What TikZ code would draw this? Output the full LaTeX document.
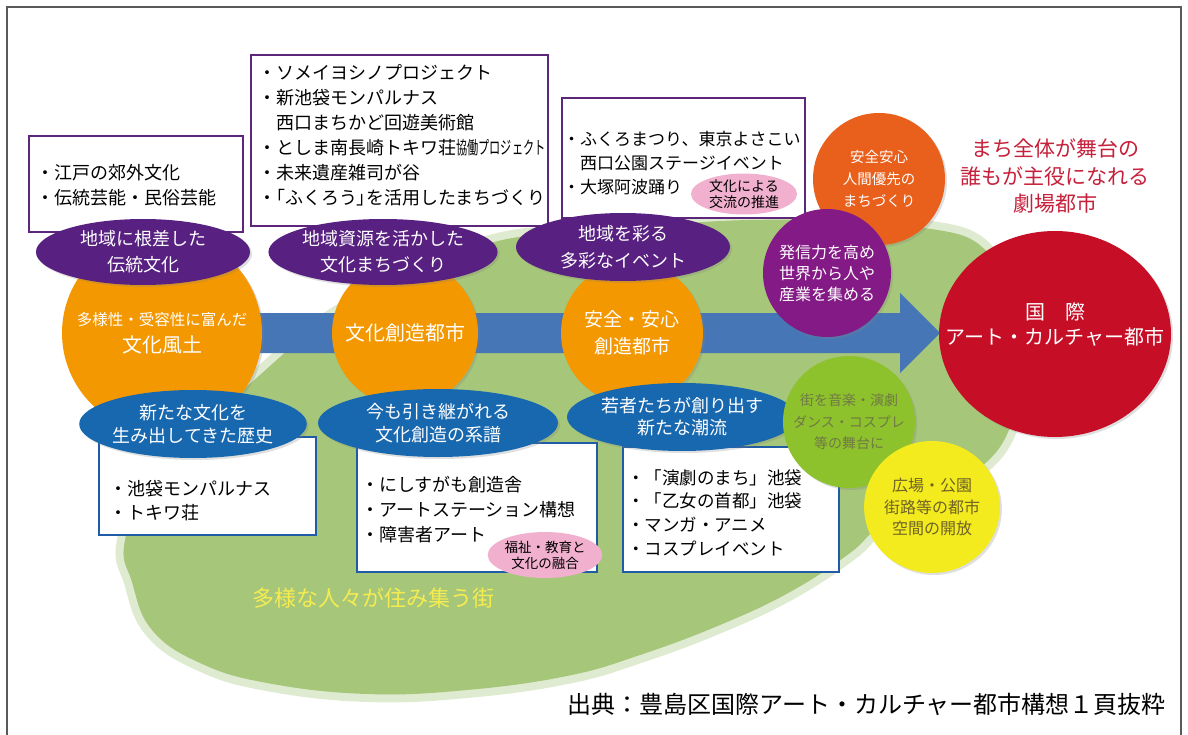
\documentclass[tikz,border=0pt]{standalone}
\usepackage{fontspec}
\usepackage{graphicx}
\setmainfont{Noto Sans CJK JP}
\usetikzlibrary{shapes.geometric,shadows}

\definecolor{blobgreen}{RGB}{166,198,121}
\definecolor{arrowblue}{RGB}{70,118,182}
\definecolor{boxpurple}{RGB}{92,38,122}
\definecolor{ovalpurple}{RGB}{88,32,128}
\definecolor{circorange}{RGB}{243,152,0}
\definecolor{ovalblue}{RGB}{24,104,176}
\definecolor{boxblue}{RGB}{32,92,165}
\definecolor{softpink}{RGB}{240,176,206}
\definecolor{safeorange}{RGB}{233,96,28}
\definecolor{sendpurple}{RGB}{132,26,134}
\definecolor{cityred}{RGB}{198,14,38}
\definecolor{titlered}{RGB}{198,32,58}
\definecolor{stagegreen}{RGB}{141,194,45}
\definecolor{stagetext}{RGB}{112,120,70}
\definecolor{openyellow}{RGB}{244,235,30}
\definecolor{opentext}{RGB}{110,98,40}
\definecolor{townyellow}{RGB}{246,236,80}
\definecolor{framegray}{RGB}{90,90,90}

\newcommand{\tsize}[2]{\fontsize{#1}{#2}\selectfont}
\newcommand{\halfbr}[1]{{\addfontfeatures{RawFeature=+palt}#1}}

\begin{document}
\begin{tikzpicture}[x=1pt,y=-1pt,
  oval/.style={ellipse,inner sep=0pt,align=center,text=white},
  disc/.style={circle,inner sep=0pt,align=center},
  topbox/.style={draw=boxpurple,line width=2.4pt,fill=white},
  lowbox/.style={draw=boxblue,line width=2.4pt,fill=white},
  listtext/.style={anchor=west,align=left,inner sep=0pt,text=black},
  soft/.style={drop shadow={opacity=0.25,shadow xshift=2pt,shadow yshift=-2pt}}]

\useasboundingbox (0,0) rectangle (1188,735);
\fill[white] (0,0) rectangle (1188,735);

\draw[blobgreen,line width=16pt,opacity=0.35] plot[smooth cycle,tension=0.7] coordinates {(125,540) (132,582) (152,630) (200,663) (267,683) (367,694) (467,690) (567,676) (640,655) (720,625) (790,592) (850,553) (890,518) (1000,447) (1010,340) (990,255) (910,226) (750,220) (600,232) (480,246) (340,312) (240,392) (155,462)};
\fill[blobgreen] plot[smooth cycle,tension=0.7] coordinates {(125,540) (132,582) (152,630) (200,663) (267,683) (367,694) (467,690) (567,676) (640,655) (720,625) (790,592) (850,553) (890,518) (1000,447) (1010,340) (990,255) (910,226) (750,220) (600,232) (480,246) (340,312) (240,392) (155,462)};

\fill[arrowblue] (150,313) -- (900,313) -- (900,293) -- (940,333) -- (900,373) -- (900,353) -- (150,353) -- cycle;

\draw[topbox] (29,136) rectangle (243,232);
\node[listtext,font=\tsize{18}{25}] (edolist) at (36,185.5) {・江戸の郊外文化\\・伝統芸能・民俗芸能};
\draw[topbox] (251,55) rectangle (548,226);
\node[listtext,font=\tsize{18}{25}] (reslist) at (258,135.5) {・ソメイヨシノプロジェクト\\・新池袋モンパルナス\\　西口まちかど回遊美術館\\・としま南長崎トキワ荘\scalebox{0.62}[1]{協働プロジェクト}\\・未来遺産雑司が谷\\・\halfbr{「}ふくろう\halfbr{」}を活用したまちづくり};
\draw[topbox] (562,98) rectangle (805,218);
\node[listtext,font=\tsize{17}{24}] (eventlist) at (563,163) {・ふくろまつり、東京よさこい\\　西口公園ステージイベント\\・大塚阿波踊り};
\node[oval,fill=softpink,text=black,minimum width=106pt,minimum height=40pt,font=\tsize{14}{16}] (exchange) at (744,194) {文化による\\交流の推進};

\node[disc,fill=circorange,text=white,minimum size=200pt,soft,font=\tsize{20}{27}] (climate) at (162,333) {{\tsize{15.5}{20}多様性・受容性に富んだ}\\文化風土};
\node[disc,fill=circorange,text=white,minimum size=146pt,soft,font=\tsize{20}{27}] (creation) at (405,333) {文化創造都市};
\node[disc,fill=circorange,text=white,minimum size=142pt,soft,font=\tsize{19}{27}] (safecity) at (632,333) {安全・安心\\創造都市};

\node[oval,fill=ovalpurple,minimum width=214pt,minimum height=66pt,soft,font=\tsize{18}{26}] (tradition) at (143,252) {地域に根差した\\伝統文化};
\node[oval,fill=ovalpurple,minimum width=218pt,minimum height=66pt,soft,font=\tsize{18}{26}] (resources) at (383,252) {地域資源を活かした\\文化まちづくり};
\node[oval,fill=ovalpurple,minimum width=214pt,minimum height=68pt,soft,font=\tsize{18}{27}] (events) at (623,247) {地域を彩る\\多彩なイベント};

\draw[lowbox] (99,437) rectangle (316,535);
\node[listtext,font=\tsize{18}{24}] (histlist) at (109,501) {・池袋モンパルナス\\・トキワ荘};
\draw[lowbox] (357,443) rectangle (597,572);
\node[listtext,font=\tsize{18}{25}] (lineagelist) at (361,510) {・にしすがも創造舎\\・アートステーション構想\\・障害者アート};
\node[oval,fill=softpink,text=black,minimum width=108pt,minimum height=46pt,font=\tsize{13.5}{16}] (welfare) at (545,555) {福祉・教育と\\文化の融合};
\draw[lowbox] (623,447) rectangle (839,572);
\node[listtext,font=\tsize{17.5}{23.7}] (trendlist) at (627,512.5) {・「演劇のまち」池袋\\・「乙女の首都」池袋\\・マンガ・アニメ\\・コスプレイベント};

\node[oval,fill=ovalblue,minimum width=218pt,minimum height=68pt,soft,font=\tsize{18}{23}] (history) at (193,424) {新たな文化を\\生み出してきた歴史};
\node[oval,fill=ovalblue,minimum width=240pt,minimum height=68pt,soft,font=\tsize{18}{23}] (lineage) at (438,423) {今も引き継がれる\\文化創造の系譜};
\node[oval,fill=ovalblue,minimum width=230pt,minimum height=68pt,soft,font=\tsize{18}{22}] (trend) at (682,417) {若者たちが創り出す\\新たな潮流};

\node[disc,fill=safeorange,text=white,minimum size=132pt,soft,font=\tsize{14.5}{22}] (humanfirst) at (879,179) {安全安心\\人間優先の\\まちづくり};
\node[disc,fill=sendpurple,text=white,minimum size=128pt,soft,font=\tsize{16}{21}] (outreach) at (827,273) {発信力を高め\\世界から人や\\産業を集める};

\node[ellipse,inner sep=0pt,fill=cityred,minimum width=232pt,minimum height=206pt,soft] (artcity) at (1055,334) {};
\node[text=white,align=center,font=\tsize{20}{25}] (artname) at (1055,325) {国　際\\アート・カルチャー都市};
\node[text=titlered,align=center,font=\tsize{21}{27.5}] (motto) at (1055,176) {まち全体が舞台の\\誰もが主役になれる\\劇場都市};

\node[disc,fill=stagegreen,text=stagetext,minimum size=132pt,soft,font=\tsize{14}{21.5}] (stage) at (849,422) {街を音楽・演劇\\ダンス・コスプレ\\等の舞台に};
\node[ellipse,inner sep=0pt,align=center,fill=openyellow,text=opentext,minimum width=130pt,minimum height=132pt,soft,font=\tsize{16}{21.5}] (openspace) at (932,507) {広場・公園\\街路等の都市\\空間の開放};

\node[text=townyellow,font=\tsize{22}{26}] (town) at (373,598) {多様な人々が住み集う街};
\node[anchor=east,inner sep=0pt,font=\tsize{24}{28}] (source) at (1166,704) {出典：豊島区国際アート・カルチャー都市構想１頁抜粋};

\draw[framegray,line width=1.5pt] (7,735) -- (7,7) -- (1181,7) -- (1181,735);
\end{tikzpicture}
\end{document}
